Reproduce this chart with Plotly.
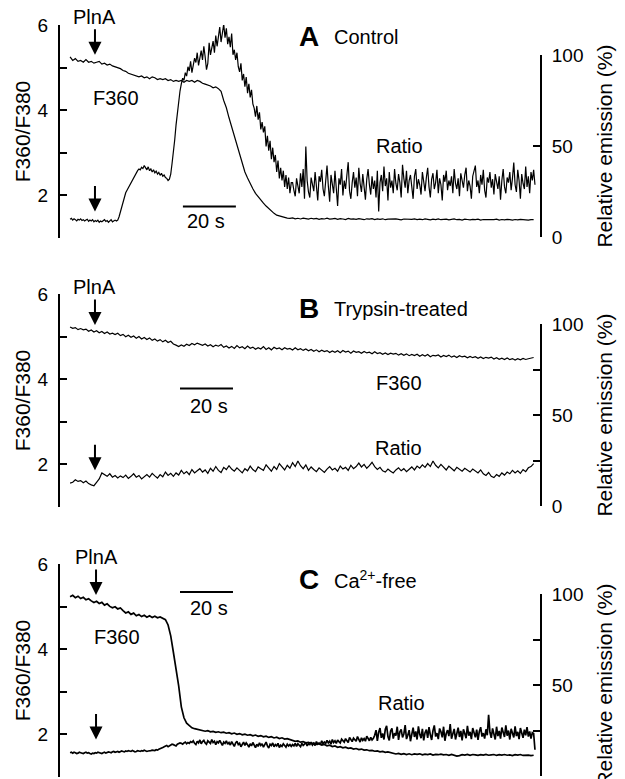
import numpy as np
import plotly.graph_objects as go

W, H = 625, 779

# ---- panel A: control (ratio sampled every 0.5 s, F360 every 1 s) -------------
RATIO_A = [
    1.44, 1.46, 1.42, 1.45, 1.43, 1.40, 1.44, 1.42, 1.45, 1.41, 1.43, 1.40, 1.42, 1.44, 1.39, 1.42, 1.40, 1.43,
    1.38, 1.41, 1.39, 1.42, 1.37, 1.40, 1.38, 1.41, 1.43, 1.39, 1.41, 1.37, 1.40, 1.43, 1.38, 1.41, 1.42, 1.40,
    1.42, 1.50, 1.62, 1.75, 1.88, 1.98, 2.06, 2.12, 2.18, 2.24, 2.30, 2.36, 2.42, 2.48, 2.54, 2.58, 2.62, 2.60, 2.66, 2.63,
    2.70, 2.64, 2.60, 2.67, 2.58, 2.62, 2.55, 2.60, 2.53, 2.57, 2.50, 2.54, 2.47, 2.52, 2.45, 2.48, 2.42, 2.40, 2.35, 2.38,
    2.50, 2.75, 3.00, 3.30, 3.65, 3.95, 4.20, 4.45,
    4.62, 4.75, 4.70, 4.88, 4.80, 5.02, 4.92, 5.15, 4.88, 5.05, 5.22, 5.12, 5.35, 5.05, 5.28, 5.40, 5.18, 5.50, 5.25, 4.95,
    5.10, 5.58, 5.30, 5.45, 5.62, 5.35, 5.75, 5.50, 5.68, 5.95, 5.60, 5.85, 6.02, 5.70, 5.92, 5.55, 5.72, 5.48, 5.80, 5.30,
    5.42, 5.18, 5.35, 5.02, 4.90, 5.10,
    4.70, 4.85, 4.55, 4.78, 4.40, 4.62, 4.30, 4.48, 4.15, 4.05, 3.85, 4.10, 3.78, 3.95, 3.55, 3.72, 3.48, 3.62, 3.15, 3.40,
    3.05, 3.28, 2.85, 3.12, 2.78, 2.95, 2.55, 2.82, 2.40, 2.65, 2.35, 2.58, 2.20, 2.48, 2.15, 2.42, 2.05, 2.30,
    2.30, 2.12, 1.98, 2.40, 2.25, 2.05, 2.52, 2.20, 2.62, 1.92, 3.15, 2.35, 2.08, 1.95, 2.42, 2.28, 2.10, 2.55, 2.18, 1.88,
    2.45, 2.32, 2.60, 2.15, 1.98, 2.38, 2.70, 2.22, 1.85, 2.48, 2.30, 2.05, 2.58, 2.12, 1.75, 2.40, 2.25, 2.62, 2.00, 2.35,
    2.15, 2.48, 2.78, 2.10, 1.92, 2.30, 2.55, 2.18, 2.42, 1.98, 2.65, 2.28, 2.08, 2.50, 2.20, 1.90, 2.38, 2.62, 2.25, 2.02,
    2.45, 2.15, 2.35, 1.95, 2.58, 1.62, 2.30, 2.48, 2.10, 2.68, 2.22, 2.40, 1.88, 2.55, 2.18, 2.35, 2.05, 2.62, 2.28, 2.12,
    2.50, 2.30, 1.95, 2.72, 2.40, 2.18, 2.58, 2.05, 2.35, 2.48, 2.20, 1.92, 2.45, 2.62, 2.15, 2.38, 2.25, 2.02, 2.55, 2.30,
    2.10, 2.42, 2.65, 2.20, 1.95, 2.38, 2.52, 2.15, 2.30, 2.60, 2.05, 2.40, 2.25, 1.88, 2.48, 2.32, 2.58, 2.12, 2.35, 2.22,
    2.45, 2.05, 2.62, 2.28, 2.15, 2.40, 1.98, 2.52, 2.30, 2.18, 2.48, 2.65, 2.10, 2.35, 2.22, 1.92, 2.45, 2.58, 2.70, 2.20,
    2.35, 2.05, 2.48, 2.25, 2.60, 2.12, 1.95, 2.42, 2.30, 2.55, 2.18, 2.38, 2.02, 2.50, 2.28, 2.15, 2.45, 1.90, 2.35, 2.62,
    2.20, 2.05, 2.42, 2.30, 2.55, 2.12, 2.40, 2.77, 2.25, 2.08, 2.60, 2.35, 1.92, 2.50, 2.28, 2.15, 2.68, 2.20, 2.45, 2.05,
    2.55, 2.35, 2.60, 2.25,
]
F360_A = [
    99, 97, 98, 96.5, 97, 96, 97.5, 96, 96.5, 95.5, 96, 96.5, 95, 95.5, 94.5, 95, 94, 93.5,
    93, 92.5, 91.5, 91, 90, 89.5, 89, 88.5, 88, 88.5, 87.5, 88, 87, 88, 87.5, 86.5, 87, 86.5, 87,
    86, 86.5, 85.5, 86, 85.5, 86, 85, 86, 85.5, 86, 85, 86, 85.5, 84.5, 84, 83.5, 83, 82, 82.5, 81.5,
    80, 75, 71, 65.5, 60.5, 55, 49.5, 44.5, 39.5, 35.7, 32.4, 29, 26.5, 24, 22, 20.3, 18.6, 17, 15.5, 14.3,
    13, 12, 11.5, 11, 10.6, 10.4,
    10.2, 10.5, 10.0, 10.3, 9.9, 10.4, 10.1, 9.8, 10.3, 10.0, 10.2, 9.7, 10.1, 9.9, 10.3, 9.8, 10.0, 10.2, 9.7, 10.1,
    9.9, 9.6, 10.2, 9.8, 10.0, 9.7, 10.1, 9.9, 9.5, 10.0, 9.8, 10.1, 9.6, 9.9, 9.7, 10.0, 9.5, 9.8, 9.9, 9.6,
    10.0, 9.7, 9.4, 9.9, 9.8, 9.5, 9.7, 10.0, 9.6, 9.8, 9.5, 9.9, 9.7, 9.4, 9.8, 9.6, 9.9, 9.5, 9.7, 9.8,
    9.4, 9.6, 9.9, 9.5, 9.7, 9.3, 9.8, 9.6, 9.4, 9.7, 9.5, 9.8, 9.3, 9.6, 9.7, 9.4, 9.6, 9.5, 9.8, 9.3,
    9.6, 9.4, 9.7, 9.5, 9.3, 9.6, 9.4, 9.7, 9.5, 9.6, 9.3, 9.5, 9.6,
]

# ---- panel B: trypsin-treated (both every 1 s) --------------------------------
RATIO_B = [
    1.56, 1.58, 1.64, 1.60, 1.62, 1.57, 1.61, 1.55, 1.52, 1.50,
    1.58, 1.66, 1.80, 1.76, 1.72, 1.78, 1.70, 1.74, 1.68, 1.73,
    1.69, 1.75, 1.67, 1.72, 1.78, 1.70, 1.74, 1.66, 1.71, 1.76,
    1.70, 1.79, 1.73, 1.68, 1.76, 1.71, 1.82, 1.74, 1.79, 1.72,
    1.80, 1.75, 1.86, 1.78, 1.83, 1.76, 1.88, 1.80, 1.85, 1.90,
    1.82, 1.87, 1.79, 1.91, 1.84, 1.95, 1.86, 1.81, 1.93, 1.88,
    1.97, 1.89, 1.84, 1.92, 1.86, 1.80, 1.90, 1.85, 1.96, 1.88,
    1.83, 1.94, 1.90, 1.86, 1.99, 1.91, 1.84, 1.95, 1.88, 2.02,
    1.93, 1.87, 1.98, 1.91, 2.04, 1.95, 2.08, 1.97, 1.90, 1.99,
    1.86, 1.94, 1.88, 1.83, 1.92, 1.86, 1.81, 1.89, 1.95, 1.87,
    1.91, 1.84, 1.96, 1.89, 1.93, 1.86, 1.98, 1.90, 1.95, 2.03,
    1.94, 2.00, 1.91, 1.97, 2.05, 1.95, 1.88, 1.93, 1.85, 1.82,
    1.89, 1.84, 1.80, 1.87, 1.92, 1.85, 1.90, 1.83, 1.88, 1.94,
    1.87, 1.96, 1.91, 1.99, 1.93, 2.02, 1.95, 2.08, 1.98, 1.92,
    2.00, 1.93, 1.87, 1.96, 1.90, 1.85, 1.93, 1.88, 1.84, 1.91,
    1.86, 1.82, 1.89, 1.84, 1.80, 1.87, 1.78, 1.74, 1.81, 1.72,
    1.69, 1.76, 1.72, 1.80, 1.75, 1.82, 1.78, 1.86, 1.80, 1.85,
    1.79, 1.88, 1.83, 1.92, 1.95, 2.02,
]
F360_B = [
    98.4, 97.6, 98.0, 96.9, 97.5, 96.8, 97.2, 96.0, 96.7, 95.6,
    96.3, 95.2, 95.9, 94.8, 95.6, 94.5, 95.0, 94.2, 94.9, 93.6,
    94.3, 93.0, 93.8, 92.7, 93.4, 92.2, 93.1, 91.8, 92.6, 91.5,
    92.3, 91.0, 91.8, 90.6, 91.4, 90.2, 91.1, 89.8, 90.5, 89.0,
    88.4, 87.6, 88.5, 87.8, 88.9, 88.2, 89.3, 88.6, 89.5, 88.9,
    88.3, 89.0, 87.9, 88.6, 87.5, 88.4, 87.8, 88.7, 87.2, 87.9,
    86.8, 87.7, 86.6, 88.2, 86.9, 87.5, 86.4, 87.9, 86.7, 87.3,
    86.1, 87.0, 86.3, 87.6, 86.0, 86.9, 85.8, 87.2, 86.4, 86.8,
    85.9, 87.0, 86.2, 86.6, 85.7, 86.9, 85.8, 86.4, 85.5, 86.3,
    85.3, 86.0, 85.0, 85.8, 84.7, 85.6, 84.9, 85.4, 84.3, 85.2,
    84.5, 85.3, 84.2, 85.4, 84.6, 85.1, 84.0, 85.2, 84.4, 84.8,
    83.9, 84.9, 84.1, 84.5, 83.6, 84.7, 83.8, 84.2, 83.4, 84.1,
    83.2, 84.0, 83.5, 83.9, 82.9, 83.7, 82.8, 83.6, 82.6, 83.3,
    82.7, 83.4, 82.3, 83.1, 82.4, 83.2, 82.0, 82.8, 82.5, 83.0,
    81.9, 82.7, 82.1, 82.9, 81.8, 82.4, 81.6, 82.6, 81.9, 82.3,
    81.4, 82.2, 81.5, 82.0, 81.2, 81.9, 81.0, 81.7, 81.3, 81.8,
    80.8, 81.5, 80.6, 81.2, 80.5, 81.3, 80.4, 81.0, 80.2, 80.9,
    80.3, 81.1, 80.5, 80.9, 81.3, 81.6,
]

# ---- panel C: Ca2+-free (ratio every 0.5 s, F360 every 1 s) -------------------
RATIO_C = [
    1.57, 1.58, 1.56, 1.58, 1.57, 1.55, 1.56, 1.58, 1.57, 1.56, 1.55, 1.57, 1.58, 1.56, 1.57, 1.55, 1.54, 1.56, 1.55, 1.57,
    1.56, 1.58, 1.57, 1.56, 1.55, 1.57, 1.58, 1.56, 1.57, 1.59, 1.58, 1.57, 1.59, 1.60, 1.58, 1.59, 1.60, 1.58, 1.59, 1.61,
    1.60, 1.59, 1.61, 1.60, 1.62, 1.61, 1.60, 1.62, 1.61, 1.59, 1.60, 1.62, 1.61, 1.60, 1.62, 1.61, 1.63, 1.62, 1.60, 1.61,
    1.61, 1.62, 1.63, 1.62, 1.62, 1.64, 1.63, 1.65, 1.66, 1.68, 1.69, 1.71, 1.72, 1.74, 1.71, 1.73, 1.75, 1.77, 1.76, 1.74,
    1.73, 1.77, 1.78, 1.80, 1.79, 1.77, 1.80, 1.82, 1.78, 1.81, 1.79, 1.83,
    1.81, 1.85, 1.79, 1.76, 1.84, 1.80, 1.87, 1.78, 1.83, 1.86, 1.80, 1.77, 1.85, 1.82, 1.79, 1.88, 1.81, 1.84, 1.76, 1.83,
    1.80, 1.86, 1.78, 1.74, 1.82, 1.79, 1.85, 1.77, 1.81, 1.75, 1.83, 1.78, 1.72, 1.80, 1.84, 1.76, 1.79, 1.71, 1.77, 1.82,
    1.74, 1.80, 1.76, 1.70, 1.78, 1.73, 1.81, 1.75, 1.69, 1.77, 1.72, 1.80, 1.74, 1.78, 1.70, 1.76, 1.82, 1.73, 1.68, 1.77,
    1.74, 1.80, 1.71, 1.76, 1.73, 1.79, 1.69, 1.75, 1.72, 1.78, 1.74, 1.70, 1.77, 1.73, 1.76, 1.72,
    1.76, 1.73, 1.79, 1.72, 1.78, 1.75, 1.71, 1.79, 1.74, 1.77, 1.81, 1.73, 1.78, 1.76, 1.82, 1.75, 1.79, 1.74, 1.83, 1.77,
    1.80, 1.76, 1.85, 1.78, 1.82, 1.79, 1.86, 1.80, 1.84, 1.77, 1.88, 1.81, 1.85, 1.79, 1.87, 1.83, 1.80, 1.89, 1.84, 1.82,
    1.90, 1.85, 1.81, 1.93, 1.86, 1.83, 1.91, 1.87, 1.84, 1.95, 1.88, 1.82, 1.92, 1.86, 1.90, 1.84, 1.96, 1.89, 1.85, 1.93,
    1.87, 1.91,
    1.98, 2.10, 1.85, 2.05, 2.15, 1.92, 2.02, 1.88, 2.12, 2.20, 1.95, 1.86, 2.08, 2.14, 1.90, 2.03, 1.97, 2.18, 1.87, 2.06,
    2.12, 1.93, 2.01, 2.22, 1.89, 1.98, 2.10, 1.84, 2.05, 2.16, 1.94, 2.07, 1.88, 2.19, 2.00, 1.91, 2.13, 1.86, 2.04, 2.11,
    1.92, 2.17, 1.99, 1.87, 2.09, 2.21, 1.95, 2.03, 1.89, 2.14, 2.06, 1.93, 2.18, 1.85, 2.02, 2.10, 1.96, 2.24, 1.90, 2.05,
    2.13, 1.88, 2.00, 2.16, 1.94, 2.08, 1.86, 2.12, 2.02, 1.91, 2.20, 1.97, 2.06, 1.89, 2.15, 2.01, 1.93, 2.11, 1.87, 2.07,
    2.17, 1.95, 2.03, 1.90, 2.12, 1.98, 2.46, 2.05, 1.92, 2.14, 2.00, 1.88, 2.18, 1.96, 2.08, 1.90, 2.16, 2.02, 1.94, 2.21,
    1.97, 2.09, 1.88, 2.13, 2.01, 1.93, 2.19, 1.96, 2.06, 1.89, 2.15, 2.00, 1.92, 2.11, 1.98, 2.17, 1.95, 2.07, 1.90, 2.04,
    2.02, 1.64,
]
F360_C = [
    98.5, 99.3, 98.0, 98.8, 97.5, 98.2, 96.8, 97.4, 96.2, 95.3,
    96.0, 94.8, 95.4, 93.9, 94.6, 93.2, 92.4, 93.0, 91.8, 92.3,
    90.9, 89.6, 90.2, 88.8, 89.5, 88.0, 88.7, 87.6, 88.3, 87.2,
    88.0, 87.1, 87.8, 86.9, 87.4, 86.6, 85.9,
    83, 77, 68, 59, 49.5, 38, 32, 29, 27.5, 26.5, 26, 25.6, 25.2, 25.0,
    24.6, 24.9, 24.3, 24.5, 24.0, 24.3, 23.8, 24.1, 23.5, 23.8, 23.2, 23.6, 22.9, 23.3, 22.6, 23.0,
    22.4, 22.7, 22.1, 22.5, 21.8, 22.2, 21.5, 21.9, 21.2, 21.6, 20.9, 21.3, 20.6, 21.0, 20.3, 20.5, 19.9,
    19.6, 19.0, 19.3, 18.6, 18.9, 18.2, 18.5, 17.8, 18.1, 17.4, 17.7, 17.0, 17.3, 16.6, 16.9, 16.2,
    16.5, 15.8, 16.1, 15.5, 15.8, 15.2, 15.4, 14.8, 15.1, 14.5, 14.8, 14.2, 14.4, 13.9, 14.1, 13.6,
    13.8, 13.3, 13.5, 13.0, 13.2, 12.7,
    12.5, 12.1, 12.4, 11.9, 12.3, 11.8, 12.2, 11.7, 12.1, 11.9, 12.2, 11.6, 12.0, 11.8, 12.1, 11.5,
    11.9, 11.7, 12.0, 11.6, 11.8, 11.4, 11.9, 11.6, 10.9, 11.2, 11.7, 11.5, 11.9, 11.4, 11.8, 11.6,
    11.3, 11.7, 11.5, 11.9, 11.4, 11.6, 11.8, 11.3, 11.7, 11.5, 11.8, 11.4, 11.6, 11.2, 11.7, 11.5,
    11.8, 11.3, 11.6, 11.5, 11.2, 11.4,
]

PANELS = [
    dict(letter="A", cond="Control", ratio=RATIO_A, ratio_dt=0.5, f360=F360_A, top=25, lw=1.2, minor=False,
         arrow_x=9.4, arrow_hi=5.30, arrow_lo=1.62, f360_lbl=(17.4, 4.29), ratio_lbl=(124.5, 3.17),
         bar=(42.6, 62.6, 1.74), bar_txt=(51.5, 1.39), letter_y=5.72),
    dict(letter="B", cond="Trypsin-treated", ratio=RATIO_B, ratio_dt=1.0, f360=F360_B, top=294, lw=1.2, minor=True,
         arrow_x=9.4, arrow_hi=5.27, arrow_lo=1.86, f360_lbl=(124, 3.92), ratio_lbl=(124, 2.39),
         bar=(41.5, 61.5, 3.78), bar_txt=(52.5, 3.38), letter_y=5.65),
    dict(letter="C", cond="Ca<sup>2+</sup>-free", ratio=RATIO_C, ratio_dt=0.5, f360=F360_C, top=564, lw=1.7,
         minor=True, arrow_x=9.8, arrow_hi=5.27, arrow_lo=1.88, f360_lbl=(17.7, 4.29), ratio_lbl=(125, 2.74),
         bar=(41.5, 61.5, 5.34), bar_txt=(52.5, 4.97), letter_y=5.63),
]
F360_DT = 1.0

FONT = "Liberation Sans, Arial, Helvetica, sans-serif"
AX_L, AX_R = 60, 540          # px of the two y-axis lines
LEFT_H, RIGHT_OFF, RIGHT_H = 213, 30, 182


def px_x(px):
    return px / W


def px_y(px):
    return 1 - px / H


fig = go.Figure()
layout = dict(
    width=W, height=H, margin=dict(l=0, r=0, t=0, b=0, autoexpand=False),
    paper_bgcolor="white", plot_bgcolor="rgba(0,0,0,0)", showlegend=False,
    font=dict(family=FONT, size=20, color="black"),
)
annotations, shapes = [], []

for i, p in enumerate(PANELS):
    xn = "" if i == 0 else str(i + 1)
    yl, yr = str(2 * i + 1) if i else "", str(2 * i + 2)
    xref, ylref, yrref = "x" + xn, "y" + yl, "y" + yr

    t_ratio = np.arange(len(p["ratio"])) * p["ratio_dt"]
    t_f360 = np.arange(len(p["f360"])) * F360_DT
    line = dict(color="black", width=p["lw"])
    fig.add_trace(go.Scatter(x=t_f360, y=p["f360"], mode="lines", line=line, xaxis=xref, yaxis=yrref, name="F360"))
    fig.add_trace(go.Scatter(x=t_ratio, y=p["ratio"], mode="lines", line=line, xaxis=xref, yaxis=ylref, name="Ratio"))

    top = p["top"]
    layout["xaxis" + xn] = dict(domain=[px_x(AX_L), px_x(AX_R)], range=[-3.8, 177.4], visible=False,
                                anchor=ylref, fixedrange=True, automargin=False)
    axis_common = dict(showline=True, linecolor="black", linewidth=2, ticks="inside", ticklen=7,
                       tickwidth=2, tickcolor="black", showgrid=False, zeroline=False, automargin=False,
                       tickfont=dict(family=FONT, size=19, color="black"), ticklabelstandoff=6)
    layout["yaxis" + yl] = dict(
        axis_common, anchor=xref, side="left", range=[1, 6],
        domain=[px_y(top + LEFT_H), px_y(top)],
        tickvals=[1, 2, 3, 4, 5, 6], ticktext=["", "2", "", "4", "", "6"],
        title=dict(text="F360/F380", standoff=1, font=dict(size=21)),
    )
    rvals = [0, 25, 50, 75, 100] if p["minor"] else [0, 50, 100]
    layout["yaxis" + yr] = dict(
        axis_common, anchor=xref, side="right", range=[0, 100],
        domain=[px_y(top + RIGHT_OFF + RIGHT_H), px_y(top + RIGHT_OFF)],
        tickvals=rvals, ticktext=[str(v) if v % 50 == 0 else "" for v in rvals],
        title=dict(text="Relative emission (%)", standoff=15, font=dict(size=21)),
    )

    # stimulus arrows
    annotations.append(dict(x=p["arrow_x"], y=p["arrow_hi"], xref=xref, yref=ylref, text="PlnA",
                            showarrow=True, ax=0, ay=-38, arrowhead=2, arrowsize=1.3, arrowwidth=2,
                            arrowcolor="black", font=dict(size=20)))
    annotations.append(dict(x=p["arrow_x"], y=p["arrow_lo"], xref=xref, yref=ylref, text="",
                            showarrow=True, ax=0, ay=-27, arrowhead=2, arrowsize=1.3, arrowwidth=2,
                            arrowcolor="black"))
    # trace labels
    for txt, (tx, ty) in (("F360", p["f360_lbl"]), ("Ratio", p["ratio_lbl"])):
        annotations.append(dict(x=tx, y=ty, xref=xref, yref=ylref, text=txt, showarrow=False,
                                font=dict(size=20)))
    # panel letter and condition
    annotations.append(dict(x=90.2, y=p["letter_y"], xref=xref, yref=ylref, text="<b>%s</b>" % p["letter"],
                            showarrow=False, font=dict(size=28)))
    annotations.append(dict(x=98.9, y=p["letter_y"], xref=xref, yref=ylref, text=p["cond"], xanchor="left",
                            showarrow=False, font=dict(size=20)))
    # 20 s scale bar
    x0, x1, yb = p["bar"]
    shapes.append(dict(type="line", xref=xref, yref=ylref, x0=x0, x1=x1, y0=yb, y1=yb,
                       line=dict(color="black", width=2)))
    annotations.append(dict(x=p["bar_txt"][0], y=p["bar_txt"][1], xref=xref, yref=ylref, text="20 s",
                            showarrow=False, font=dict(size=20)))

layout["annotations"] = annotations
layout["shapes"] = shapes
fig.update_layout(**layout)
# drop the page's default body margin so the 625x779 figure fills the window exactly
fig.write_html("out.html", config={"displayModeBar": False},
               post_script="document.body.style.margin = '0';")
